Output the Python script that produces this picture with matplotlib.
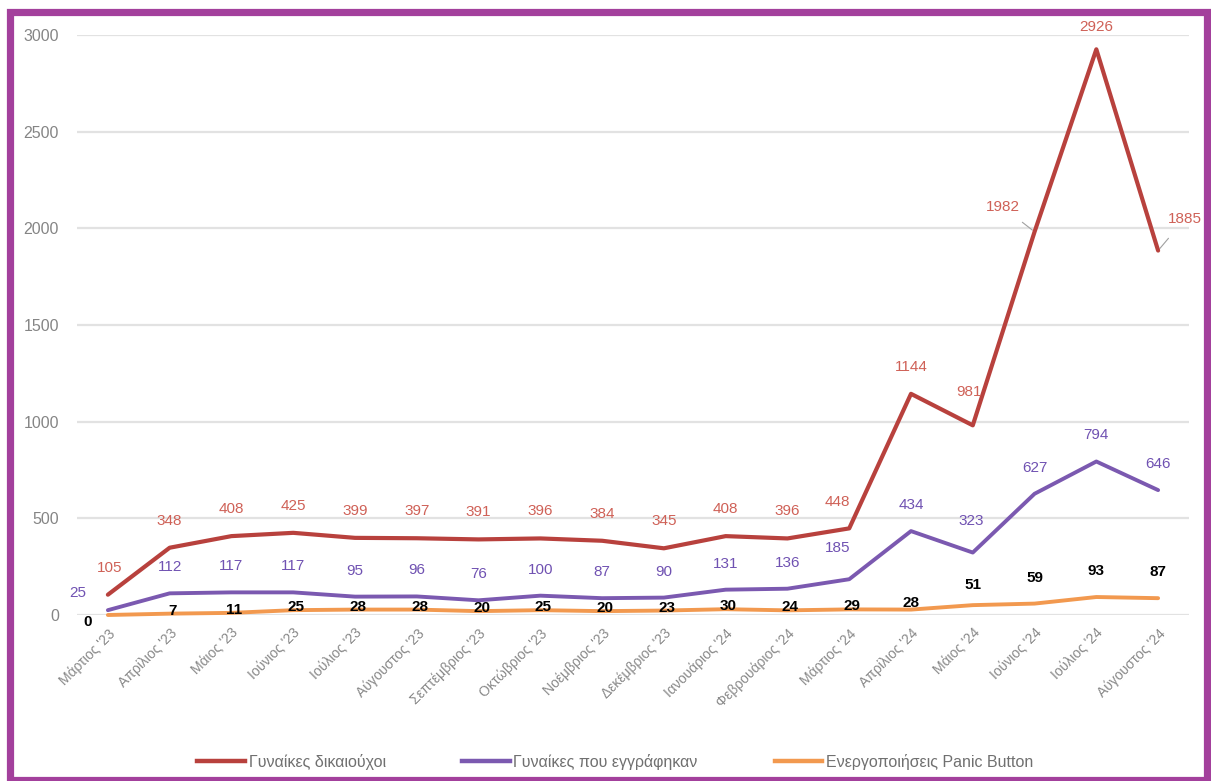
import matplotlib
matplotlib.use('Agg')
import matplotlib.pyplot as plt
from matplotlib.patches import Rectangle
from matplotlib.lines import Line2D

plt.rcParams['font.family'] = ['Liberation Sans', 'DejaVu Sans']

# δεδομένα
months = ["Μάρτιος '23", "Απρίλιος '23", "Μάιος '23", "Ιούνιος '23", "Ιούλιος '23",
          "Αύγουστος '23", "Σεπτέμβριος '23", "Οκτώβριος '23", "Νοέμβριος '23",
          "Δεκέμβριος '23", "Ιανουάριος '24", "Φεβρουάριος '24", "Μάρτιος '24",
          "Απρίλιος '24", "Μάιος '24", "Ιούνιος '24", "Ιούλιος '24", "Αύγουστος '24"]
beneficiaries = [105, 348, 408, 425, 399, 397, 391, 396, 384, 345, 408, 396, 448,
                 1144, 981, 1982, 2926, 1885]
registered = [25, 112, 117, 117, 95, 96, 76, 100, 87, 90, 131, 136, 185,
              434, 323, 627, 794, 646]
panic = [0, 7, 11, 25, 28, 28, 20, 25, 20, 23, 30, 24, 29, 28, 51, 59, 93, 87]
y_ticks = [0, 500, 1000, 1500, 2000, 2500, 3000]
legend_labels = ['Γυναίκες δικαιούχοι', 'Γυναίκες που εγγράφηκαν', 'Ενεργοποιήσεις Panic Button']

# χρώματα
red, purple, orange = '#B8413D', '#7B59B0', '#F2994F'
red_lbl, purple_lbl = '#CF6157', '#7052B2'

# μετατοπίσεις ετικετών (pixels)
red_off = {0: (2, 27), 12: (-12, 26), 14: (-4, 33), 15: (-32, 25), 16: (0, 22), 17: (27, 32)}
purple_off = {0: (-30, 17), 12: (-12, 31), 14: (-2, 32)}
orange_off = {0: (-20, -7), 13: (0, 7), 14: (0, 20), 15: (0, 26), 16: (0, 26), 17: (0, 26)}

W, H = 1211, 781
fig = plt.figure(figsize=(W / 100, H / 100), dpi=100)
ax = fig.add_axes([77 / W, 166 / H, (1189 - 77) / W, (615 - 35) / H])

x = list(range(len(months)))
ax.plot(x, panic, color=orange, lw=2.8, solid_capstyle='round', zorder=3, clip_on=False)
ax.plot(x, registered, color=purple, lw=2.8, solid_capstyle='round', zorder=4, clip_on=False)
ax.plot(x, beneficiaries, color=red, lw=3.0, solid_capstyle='round', zorder=5, clip_on=False)

ax.set_xlim(-0.5, len(months) - 0.5)
ax.set_ylim(0, 3000)
ax.set_yticks(y_ticks)
ax.set_xticks(x)
ax.set_xticklabels(months, rotation=45, ha='right', va='top', rotation_mode='anchor',
                   fontsize=10, color='#888888')
ax.tick_params(axis='y', length=0, pad=13, labelsize=11.5, labelcolor='#858585')
ax.tick_params(axis='x', length=0, pad=8)
ax.grid(axis='y', color='#e2e2e2', lw=1.6)
ax.set_axisbelow(True)
for s in ax.spines.values():
    s.set_visible(False)

for i in x:
    dx, dy = red_off.get(i, (0, 27))
    ax.annotate(str(beneficiaries[i]), (i, beneficiaries[i]), xytext=(dx, dy),
                textcoords='offset pixels', ha='center', va='center',
                fontsize=11, color=red_lbl, zorder=6, annotation_clip=False)
    dx, dy = purple_off.get(i, (0, 26))
    ax.annotate(str(registered[i]), (i, registered[i]), xytext=(dx, dy),
                textcoords='offset pixels', ha='center', va='center',
                fontsize=11, color=purple_lbl, zorder=6, annotation_clip=False)
    dx, dy = orange_off.get(i, (3, 3))
    ax.annotate(str(panic[i]), (i, panic[i]), xytext=(dx, dy),
                textcoords='offset pixels', ha='center', va='center',
                fontsize=11, color='black', fontweight='bold', zorder=6,
                annotation_clip=False)

# γραμμές οδηγοί για 1982 και 1885
for i in (15, 17):
    dx, dy = red_off[i]
    ax.annotate('', (i, beneficiaries[i]), xytext=(dx * 0.45, dy * 0.45),
                textcoords='offset pixels',
                arrowprops=dict(arrowstyle='-', color='#a0a0a0', lw=0.8),
                annotation_clip=False)

handles = [Line2D([0], [0], color=c, lw=3.2) for c in (red, purple, orange)]
fig.legend(handles, legend_labels, loc='center', bbox_to_anchor=(0.508, 1 - 762 / H),
           ncol=3, frameon=False, fontsize=11.5, handlelength=3.0, handletextpad=0.2,
           columnspacing=4.8, labelcolor='#707070')

fig.patches.append(Rectangle((9.5 / W, 1 / H), (1207 - 9.5) / W, (780 - 11.5) / H,
                             transform=fig.transFigure, fill=False,
                             edgecolor='#A3409C', lw=5.2, zorder=10))

fig.savefig('out.png', dpi=100)
